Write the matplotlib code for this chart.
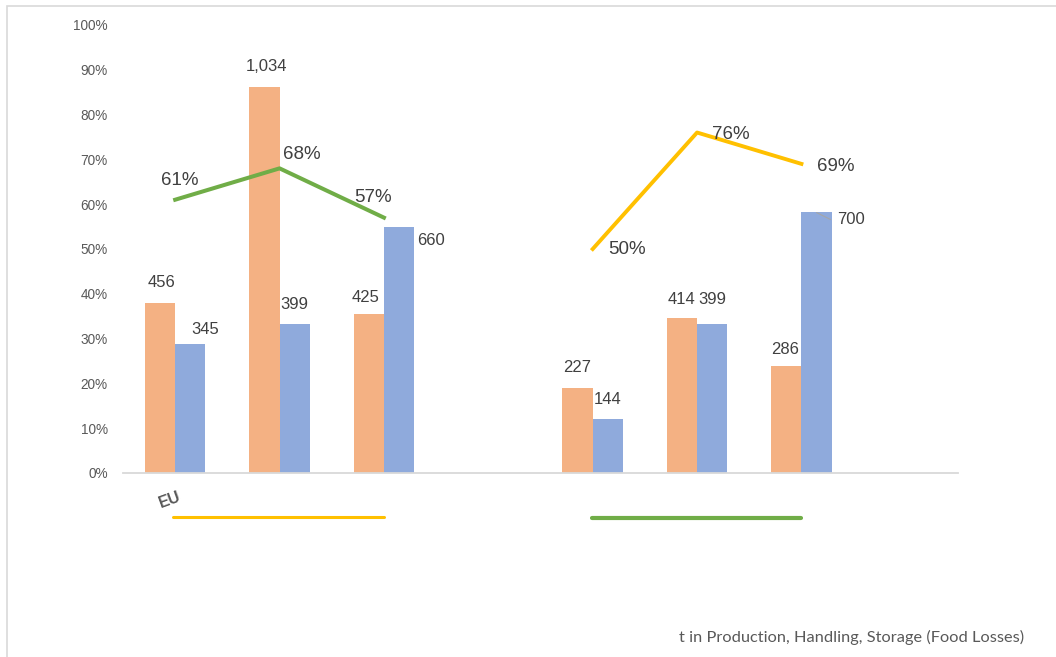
import matplotlib.pyplot as plt
from matplotlib.patches import Rectangle

# categories: 3 EU stages, gap, 3 stages, gap
categories = ['EU-1', 'EU-2', 'EU-3', '', 'B-1', 'B-2', 'B-3', '']
orange_vals = [456, 1034, 425, None, 227, 414, 286, None]
blue_vals = [345, 399, 660, None, 144, 399, 700, None]
green_pct = [0.61, 0.68, 0.57]
yellow_pct = [0.50, 0.76, 0.69]
scale_max = 1200
yticks = [i / 10 for i in range(11)]

ORANGE = '#F4B183'
BLUE = '#8FAADC'
GREEN = '#70AD47'
YELLOW = '#FFC000'
TXT = '#404040'


def main():
    plt.rcParams['font.family'] = ['Liberation Sans', 'DejaVu Sans']
    fig = plt.figure(figsize=(10.56, 6.57), dpi=100)
    W, H = 1056, 657

    # light frame around the chart area
    fig.patches.append(Rectangle((7 / W, -0.1), 1.2, 1 - 6 / H + 0.1,
                                 transform=fig.transFigure, fill=False,
                                 ec='#D9D9D9', lw=1.2))

    ax = fig.add_axes([123 / W, 1 - 473 / H, 835 / W, 448 / H])
    ax.set_xlim(-0.5, len(categories) - 0.5)
    ax.set_ylim(0, 1)

    bw = 0.29
    for i, (o, b) in enumerate(zip(orange_vals, blue_vals)):
        if o is None:
            continue
        ax.bar(i - bw / 2, o / scale_max, width=bw, color=ORANGE, zorder=2)
        ax.bar(i + bw / 2, b / scale_max, width=bw, color=BLUE, zorder=2)

    # data labels
    o_off = [(1, 20), (2, 20), (-3, 17), None, (0, 21), (0, 19), (-1, 17), None]
    b_off = [(15, 15), (0, 20), (32, -14), None, (0, 20), (0, 25), (34, -8), None]
    for i, (o, b) in enumerate(zip(orange_vals, blue_vals)):
        if o is None:
            continue
        ax.annotate(f'{o:,}', (i - bw / 2, o / scale_max), xytext=o_off[i],
                    textcoords='offset pixels', ha='center', va='center',
                    fontsize=12, color=TXT, zorder=5)
        ax.annotate(f'{b:,}', (i + bw / 2, b / scale_max), xytext=b_off[i],
                    textcoords='offset pixels', ha='center', va='center',
                    fontsize=12, color=TXT, zorder=5)
    # leader line for 700
    ax.annotate('', (6 + bw / 2, blue_vals[6] / scale_max - 0.002),
                xytext=(14, -7), textcoords='offset pixels',
                arrowprops=dict(arrowstyle='-', color='#A6A6A6', lw=0.8,
                                shrinkA=0, shrinkB=0), zorder=5)

    # share lines
    gx = [0, 1, 2]
    yx = [4, 5, 6]
    ax.plot(gx, green_pct, color=GREEN, lw=2.9, zorder=3)
    ax.plot(yx, yellow_pct, color=YELLOW, lw=2.8, zorder=3)
    g_off = [(5, 19), (22, 14), (-11, 20)]
    y_off = [(34, 0), (34, -2), (34, -3)]
    for x, p, off in zip(gx, green_pct, g_off):
        ax.annotate(f'{p:.0%}', (x, p), xytext=off, textcoords='offset pixels',
                    ha='center', va='center', fontsize=13.5, color=TXT, zorder=5)
    for x, p, off in zip(yx, yellow_pct, y_off):
        ax.annotate(f'{p:.0%}', (x, p), xytext=off, textcoords='offset pixels',
                    ha='center', va='center', fontsize=13.5, color=TXT, zorder=5)

    # group markers below the axis
    ax.plot([-0.02, 2.0], [-0.098, -0.098], color=YELLOW, lw=2.2,
            clip_on=False, solid_capstyle='round')
    ax.plot([3.99, 6.0], [-0.1, -0.1], color=GREEN, lw=3.0,
            clip_on=False, solid_capstyle='round')
    ax.text(-0.05, -0.06, 'EU', rotation=20, ha='center', va='center',
            fontsize=11.5, fontweight='bold', color='#595959')

    # axes styling
    for s in ['left', 'right', 'top']:
        ax.spines[s].set_visible(False)
    ax.spines['bottom'].set_color('#D9D9D9')
    ax.spines['bottom'].set_linewidth(1.3)
    ax.set_xticks([])
    ax.set_yticks(yticks)
    ax.set_yticklabels([f'{t:.0%}' for t in yticks])
    ax.tick_params(axis='y', length=0, pad=11, labelsize=9.8,
                   labelcolor='#595959')

    fig.text(1024 / W, 1 - 637 / H,
             't in Production, Handling, Storage (Food Losses)',
             ha='right', va='center', fontsize=11.8, color='#595959',
             family=['Lato', 'DejaVu Sans'])

    fig.savefig('out.png', dpi=100)


if __name__ == "__main__":
    main()
